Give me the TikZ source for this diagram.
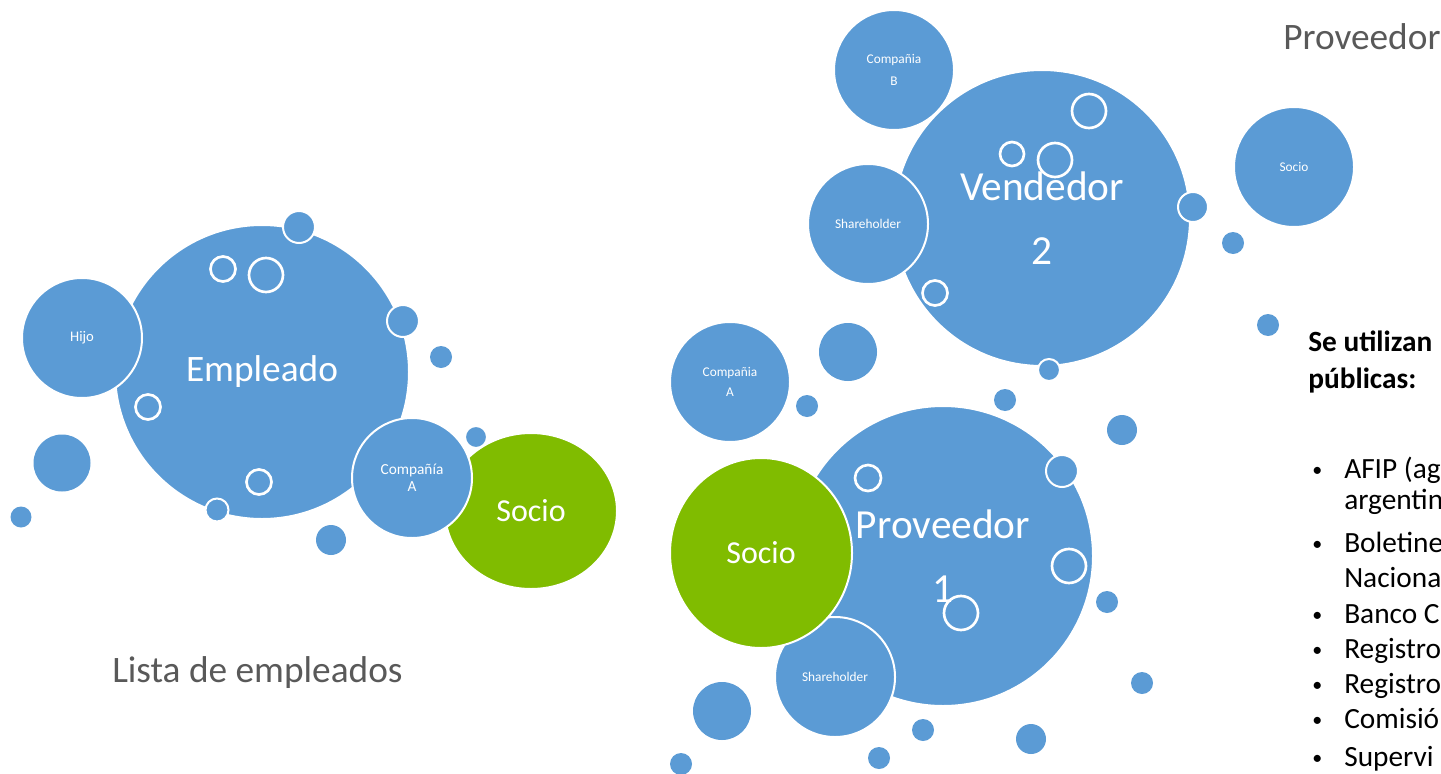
\documentclass[tikz,border=0pt]{standalone}
\usepackage{fontspec}
\setmainfont{Carlito}
\usetikzlibrary{shapes.geometric}
\definecolor{bblue}{HTML}{5B9BD5}
\definecolor{bgreen}{HTML}{80BC00}
\definecolor{tgray}{HTML}{595959}

\tikzset{
	bub/.style={circle, fill=bblue, draw=white, line width=1.5pt, inner sep=0pt, text=white, align=center, minimum size=#1*1.5pt},
	gbub/.style={ellipse, fill=bgreen, draw=white, line width=1.5pt, inner sep=0pt, text=white, font=\fontsize{24}{29}\selectfont},
	wring/.style={draw=white, line width=2pt},
	bdot/.style={fill=bblue},
	wdot/.style={fill=bblue, draw=white, line width=1.5pt},
	ttl/.style={text=tgray, anchor=base west, inner sep=0pt, font=\fontsize{28}{34}\selectfont},
	txt/.style={anchor=base west, inner sep=0pt, font=\fontsize{22}{27}\selectfont},
	blt/.style={anchor=base west, inner sep=0pt, font=\fontsize{15}{18}\selectfont, yshift=1.5pt},
}

\begin{document}
\begin{tikzpicture}[x=0.75pt, y=-0.75pt]
		\useasboundingbox (0,0) rectangle (1441,774);

		% empleado
		\node[bub=147, font=\fontsize{28}{34}\selectfont] (empleado) at (262,372) {Empleado};
		\node[bub=60, font=\fontsize{11}{13}\selectfont] (hijo) at (82,338) {Hijo};
		\filldraw[wdot] (299,227) circle (16);
		\filldraw[wdot] (403,321) circle (16);
		\filldraw[wdot] (217,510) circle (11.5);
		\draw[wring] (223,269) circle (12.5);
		\draw[wring] (266,275) circle (17);
		\draw[wring] (148,407) circle (12.5);
		\draw[wring] (259,482) circle (12.5);
		\node[gbub, minimum width=129pt, minimum height=117pt] (socioE) at (531,511) {Socio};
		\node[bub=60, font=\fontsize{11.5}{13}\selectfont] (compA) at (412,478) {Compañía\\A};
		\filldraw[wdot] (476,437) circle (11);
		\fill[bdot] (441,357) circle (11);
		\fill[bdot] (62,463) circle (28.5);
		\fill[bdot] (21,517) circle (10.5);
		\fill[bdot] (331,540) circle (15);
		\node[ttl] (lista) at (112,682) {Lista de empleados};

		% vendedor
		\node[bub=148, font=\fontsize{31}{48}\selectfont] (vendedor) at (1042,218) {Vendedor\\2};
		\node[bub=60, font=\fontsize{10}{16}\selectfont] (compB) at (894,70) {Compañia\\B};
		\node[bub=60, font=\fontsize{10}{12}\selectfont] (shareV) at (868,224) {Shareholder};
		\draw[wring] (1089,111) circle (17);
		\draw[wring] (1012,154) circle (12);
		\draw[wring] (1055,160) circle (17);
		\draw[wring] (935,293) circle (12.5);
		\filldraw[wdot] (1193,207) circle (15);
		\filldraw[wdot] (1049,370) circle (11);
		\node[bub=60, font=\fontsize{10}{12}\selectfont] (socioV) at (1294,167) {Socio};
		\fill[bdot] (848,352) circle (29);
		\fill[bdot] (1233,243) circle (11);
		\fill[bdot] (1268,325) circle (11);
		\node[ttl] (prov) at (1283,50) {Proveedor};

		% proveedor
		\node[bub=150, font=\fontsize{31}{48}\selectfont] (proveedor) at (943,556) {Proveedor\\1};
		\node[bub=60, font=\fontsize{10}{12}\selectfont] (shareP) at (835,677) {Shareholder};
		\node[gbub, minimum width=136.5pt, minimum height=142.5pt] (socioP) at (761,553) {Socio};
		\node[bub=60, font=\fontsize{10}{15}\selectfont] (compAP) at (730,382) {Compañia\\A};
		\draw[wring] (868,478) circle (13);
		\draw[wring] (1069,566) circle (17);
		\draw[wring] (961,613) circle (17);
		\filldraw[wdot] (1062,471) circle (16);
		\fill[bdot] (807,406) circle (11);
		\fill[bdot] (1005,400) circle (11);
		\fill[bdot] (1122,430) circle (15);
		\fill[bdot] (1107,602) circle (11);
		\fill[bdot] (1142,683) circle (11);
		\fill[bdot] (1031,739) circle (15);
		\fill[bdot] (722,711) circle (29);
		\fill[bdot] (681,764) circle (11);
		\fill[bdot] (923,730) circle (11);
		\fill[bdot] (879,758) circle (11);

		% fuentes
		\node[txt, font=\fontsize{22}{27}\selectfont\bfseries] (h1) at (1308,351) {Se utilizan};
		\node[txt, font=\fontsize{22}{27}\selectfont\bfseries] (h2) at (1308,388) {públicas:};
		\node[blt] (b1) at (1312,478) {•};
		\node[txt] (t1) at (1344,478) {AFIP (ag};
		\node[txt] (t1b) at (1344,509) {argentin};
		\node[blt] (b2) at (1312,552) {•};
		\node[txt] (t2) at (1344,552) {Boletine};
		\node[txt] (t2b) at (1344,587) {Naciona};
		\node[blt] (b3) at (1312,623) {•};
		\node[txt] (t3) at (1344,623) {Banco C};
		\node[blt] (b4) at (1312,658) {•};
		\node[txt] (t4) at (1344,658) {Registro};
		\node[blt] (b5) at (1312,693) {•};
		\node[txt] (t5) at (1344,693) {Registro};
		\node[blt] (b6) at (1312,728) {•};
		\node[txt] (t6) at (1344,728) {Comisió};
		\node[blt] (b7) at (1312,766) {•};
		\node[txt] (t7) at (1344,766) {Supervi};
	\end{tikzpicture}
\end{document}
